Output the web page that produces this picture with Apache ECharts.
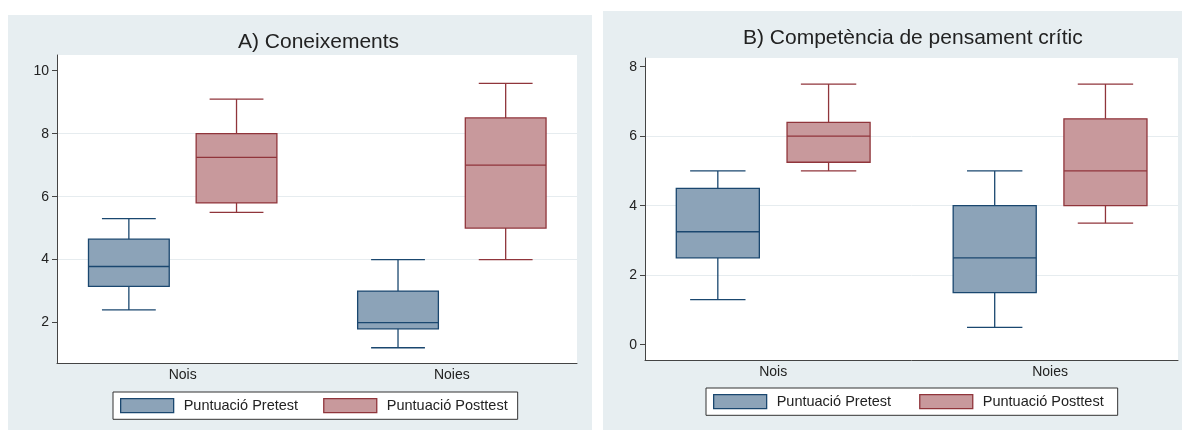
<!DOCTYPE html>
<html>
<head>
<meta charset="utf-8">
<script src="https://cdn.jsdelivr.net/npm/echarts@6/dist/echarts.min.js"></script>
<style>
    body { margin: 0; background: #fff; }
    .panel { position: absolute; background: #e7eef1; }
</style>
</head>
<body>
<div id="chartA" class="panel" style="left:8px;top:15px;width:584px;height:415px;"></div>
<div id="chartB" class="panel" style="left:603px;top:11px;width:579px;height:419px;"></div>
<script>
    var categories = ['Nois', 'Noies']
    var seriesNames = ['Puntuació Pretest', 'Puntuació Posttest']
    // each row: [min, Q1, median, Q3, max] for Nois, Noies
    var coneixPre = [[2.4, 3.15, 3.78, 4.65, 5.3], [1.2, 1.8, 2.0, 3.0, 4.0]]
    var coneixPost = [[5.5, 5.8, 7.25, 8.0, 9.1], [4.0, 5.0, 7.0, 8.5, 9.6]]
    var criticPre = [[1.3, 2.5, 3.25, 4.5, 5.0], [0.5, 1.5, 2.5, 4.0, 5.0]]
    var criticPost = [[5.0, 5.25, 6.0, 6.4, 7.5], [3.5, 4.0, 5.0, 6.5, 7.5]]
    var yTicksA = [2, 4, 6, 8, 10]
    var yTicksB = [0, 2, 4, 6, 8]

    var FONT = "'Liberation Sans', Arial, sans-serif"
    var NAVY = '#1a476f', NAVY_FILL = '#8ca3b8'
    var MAROON = '#90353b', MAROON_FILL = '#c8999c'

    function withIndex(rows){
        return rows.map(function(r, i){ return [i].concat(r) })
    }

    // box drawn through the axes; offset/widths are in x data units
    function boxRenderer(offset, fill, stroke){
        return function(params, api){
            var x = api.value(0) + offset
            var lo = api.coord([x, api.value(1)])
            var q1 = api.coord([x, api.value(2)])
            var md = api.coord([x, api.value(3)])
            var q3 = api.coord([x, api.value(4)])
            var hi = api.coord([x, api.value(5)])
            var half = api.size([0.15, 0])[0]
            var cap = api.size([0.1, 0])[0]
            var cx = md[0]
            var ls = { stroke: stroke, lineWidth: 1.3 }
            return {
                type: 'group',
                children: [
                    { type: 'line', shape: { x1: cx, y1: hi[1], x2: cx, y2: q3[1] }, style: ls },
                    { type: 'line', shape: { x1: cx, y1: lo[1], x2: cx, y2: q1[1] }, style: ls },
                    { type: 'line', shape: { x1: cx - cap, y1: hi[1], x2: cx + cap, y2: hi[1] }, style: ls },
                    { type: 'line', shape: { x1: cx - cap, y1: lo[1], x2: cx + cap, y2: lo[1] }, style: ls },
                    { type: 'rect', shape: { x: cx - half, y: q3[1], width: half * 2, height: q1[1] - q3[1] },
                      style: { fill: fill, stroke: stroke, lineWidth: 1.3 } },
                    { type: 'line', shape: { x1: cx - half, y1: md[1], x2: cx + half, y2: md[1] }, style: ls }
                ]
            }
        }
    }

    function chart_option(o){
        return {
            animation: false,
            textStyle: { fontFamily: FONT },
            title: {
                text: o.title,
                left: o.titleLeft,
                top: 17,
                padding: 0,
                textStyle: { fontSize: 21, fontWeight: 'normal', color: '#222', fontFamily: FONT }
            },
            legend: {
                left: o.legendLeft,
                top: 377,
                orient: 'horizontal',
                backgroundColor: '#fff',
                borderColor: '#333',
                borderWidth: 1,
                padding: [6, o.legendPadRight, 6, 7],
                itemGap: o.legendGap,
                itemWidth: 53,
                itemHeight: 14,
                textStyle: { fontSize: 14.5, color: '#222', padding: [0, 0, 0, 5], fontFamily: FONT },
                data: [
                    { name: seriesNames[0], icon: 'rect', itemStyle: { color: NAVY_FILL, borderColor: NAVY, borderWidth: 1.3 } },
                    { name: seriesNames[1], icon: 'rect', itemStyle: { color: MAROON_FILL, borderColor: MAROON, borderWidth: 1.3 } }
                ]
            },
            grid: {
                left: o.grid[0], top: o.grid[1], right: o.grid[2], bottom: o.grid[3],
                show: true, backgroundColor: '#fff', borderWidth: 0
            },
            xAxis: {
                type: 'value',
                min: o.xMin,
                max: o.xMax,
                axisLine: { show: true, onZero: false, lineStyle: { color: '#444', width: 1 } },
                axisTick: { show: false },
                splitLine: { show: false },
                axisLabel: {
                    customValues: [0, 1],
                    margin: 5,
                    fontSize: 14,
                    color: '#222',
                    formatter: function(v){ return categories[Math.round(v)] }
                }
            },
            yAxis: {
                type: 'value',
                min: o.yMin,
                max: o.yMax,
                minInterval: 2,
                maxInterval: 2,
                axisLine: { show: true, onZero: false, lineStyle: { color: '#444', width: 1 } },
                axisTick: { show: true, customValues: o.yTicks, length: 5, lineStyle: { color: '#444' } },
                splitLine: { show: true, showMinLine: false, showMaxLine: false, lineStyle: { color: '#e6ecef', width: 1 } },
                axisLabel: { customValues: o.yTicks, margin: 8, fontSize: 14, color: '#222' }
            },
            series: [
                {
                    type: 'custom',
                    name: seriesNames[0],
                    itemStyle: { color: NAVY_FILL },
                    encode: { x: 0, y: [1, 2, 3, 4, 5] },
                    renderItem: boxRenderer(-0.2, NAVY_FILL, NAVY),
                    data: withIndex(o.pre)
                },
                {
                    type: 'custom',
                    name: seriesNames[1],
                    itemStyle: { color: MAROON_FILL },
                    encode: { x: 0, y: [1, 2, 3, 4, 5] },
                    renderItem: boxRenderer(0.2, MAROON_FILL, MAROON),
                    data: withIndex(o.post)
                }
            ]
        }
    }

    var chartA = echarts.init(document.getElementById('chartA'))
    chartA.setOption(chart_option({
        title: 'A) Coneixements',
        titleLeft: 230,
        legendLeft: 105,
        legendGap: 25,
        legendPadRight: 10,
        grid: [49, 40, 15, 67],
        xMin: -0.467, xMax: 1.465,
        yMin: 0.715, yMax: 10.5,
        yTicks: yTicksA,
        pre: coneixPre,
        post: coneixPost
    }))

    var chartB = echarts.init(document.getElementById('chartB'))
    chartB.setOption(chart_option({
        title: 'B) Competència de pensament crític',
        titleLeft: 140,
        legendLeft: 103,
        legendGap: 28,
        legendPadRight: 14,
        grid: [42, 47, 4, 70],
        xMin: -0.463, xMax: 1.462,
        yMin: -0.44, yMax: 8.25,
        yTicks: yTicksB,
        pre: criticPre,
        post: criticPost
    }))
</script>
</body>
</html>
